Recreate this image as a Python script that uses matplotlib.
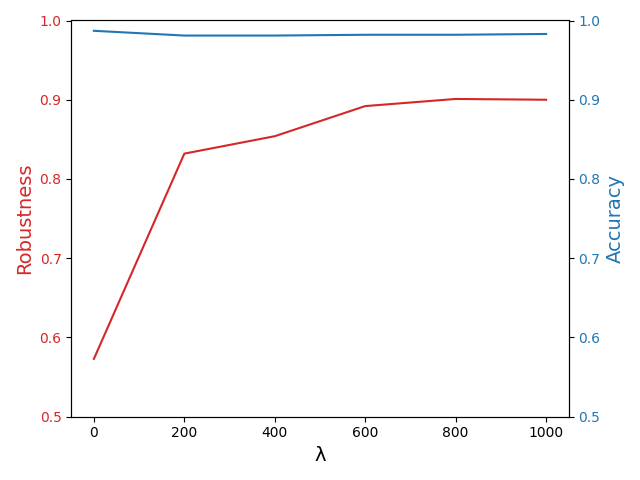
import matplotlib
matplotlib.use('Agg')
import matplotlib.pyplot as plt

lambdas = [0, 200, 400, 600, 800, 1000]
robustness = [0.573, 0.832, 0.854, 0.892, 0.901, 0.900]
accuracy = [0.987, 0.981, 0.981, 0.982, 0.982, 0.983]

fig, ax1 = plt.subplots(figsize=(6.4, 4.8), dpi=100)

color = 'tab:red'
ax1.set_xlabel('λ', fontsize=14)
ax1.set_ylabel('Robustness', color=color, fontsize=14)
ax1.plot(lambdas, robustness, color=color)
ax1.tick_params(axis='y', labelcolor=color)
ax1.set_ylim(0.5, 1.0)

ax2 = ax1.twinx()
color = 'tab:blue'
ax2.set_ylabel('Accuracy', color=color, fontsize=14)
ax2.plot(lambdas, accuracy, color=color)
ax2.tick_params(axis='y', labelcolor=color)
ax2.set_ylim(0.5, 1.0)

fig.tight_layout()
plt.savefig('out.png', dpi=100)
